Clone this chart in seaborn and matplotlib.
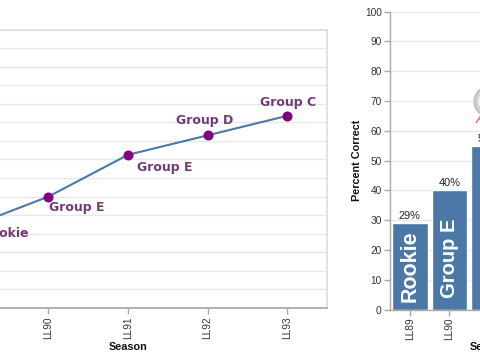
import matplotlib
matplotlib.use('Agg')
import matplotlib.pyplot as plt
import numpy as np
import pandas as pd
import seaborn as sns

# Values
seasons = ['LL89', 'LL90', 'LL91', 'LL92', 'LL93']
percent_correct = [29, 40, 55, 62, 69]
groups = ['Rookie', 'Group E', 'Group E', 'Group D', 'Group C']
bar_labels = ['29%', '40%', '55%', '62%', '69%']
percent_ticks = [0, 10, 20, 30, 40, 50, 60, 70, 80, 90, 100]

df = pd.DataFrame({'Season': seasons, 'Percent': percent_correct, 'Group': groups})

BLUE = '#4c78a8'
GRID = '#e8e8e8'
DOMAIN = '#a8a8a8'
LABEL = '#723a72'

sns.set_theme(style='white')
plt.rcParams['font.family'] = ['Liberation Sans', 'DejaVu Sans']

W, H = 480, 360
fig = plt.figure(figsize=(W / 100, H / 100), dpi=100)


def px_axes(left, right, top, bottom):
    return fig.add_axes([left / W, 1 - bottom / H, (right - left) / W, (bottom - top) / H])


def style_axes(ax, pad):
    ax.set_xlim(-0.5, 4.5)
    ax.set_ylim(0, 100)
    ax.set_axisbelow(True)
    ax.grid(axis='y', color=GRID, linewidth=1)
    ax.set_xlabel('Season', fontsize=7.8, fontweight='bold', color='#111111', labelpad=pad)
    ax.tick_params(axis='x', bottom=True, length=4, width=1, color=DOMAIN, labelsize=7.3,
                   labelcolor='#333333', labelrotation=90, pad=2)


# Left chart, runs off the left edge of the figure
ax1 = px_axes(-71, 327, 29.5, 308)
sns.lineplot(data=df, x='Season', y='Percent', color=BLUE, linewidth=1.5, ax=ax1, zorder=3)
sns.scatterplot(data=df, x='Season', y='Percent', color='#800080', s=52, linewidth=0, ax=ax1, zorder=4)
style_axes(ax1, 2)
ax1.set_yticks(np.linspace(0, 100, 16))
ax1.tick_params(axis='y', left=False, labelleft=False)
ax1.set_ylabel('')
for side in ['top', 'right', 'left']:
    ax1.spines[side].set_color('#dddddd')
ax1.spines['bottom'].set_color(DOMAIN)

# label offsets from each point, in pixels
offsets = [(13, -10), (1, -14), (9, -16), (-32, 11), (-27, 10)]
for i, name in enumerate(groups):
    ax1.annotate(name, (i, percent_correct[i]), xytext=offsets[i], textcoords='offset pixels',
                 ha='left', va='baseline', fontsize=9, fontweight='bold', color=LABEL,
                 family='DejaVu Sans', annotation_clip=False)

# Right chart, runs off the right edge of the figure
ax2 = px_axes(390, 588, 11.5, 309.5)
sns.barplot(data=df, x='Season', y='Percent', color=BLUE, saturation=1, width=0.895, ax=ax2, zorder=2)
style_axes(ax2, 1)
ax2.set_yticks(percent_ticks)
ax2.tick_params(axis='y', left=True, length=4, width=1, color=DOMAIN, labelsize=7.3,
                labelcolor='#333333', pad=2)
ax2.set_ylabel('Percent Correct', fontsize=7.8, fontweight='bold', color='#111111', labelpad=2)
sns.despine(ax=ax2, top=True, right=True)
ax2.spines['left'].set_color(DOMAIN)
ax2.spines['bottom'].set_color(DOMAIN)
ax2.spines['left'].set_linewidth(1)
ax2.spines['bottom'].set_linewidth(1)

bar_text_bottom = [2.5, 3.9, 3.9, 3.9, 3.9]
bar_text_size = [15.5, 14.5, 14.5, 14.5, 14.5]
bar_text_shift = [0, 0, 0.08, 0.08, 0.08]
for i, value in enumerate(percent_correct):
    ax2.text(i, value + 0.7, bar_labels[i], ha='center', va='bottom', fontsize=7.9, color='#222222')
    ax2.text(i + bar_text_shift[i], bar_text_bottom[i], groups[i], rotation=90, ha='center', va='bottom',
             fontsize=bar_text_size[i], fontweight='bold', color='white')

# Badge above the LL91 bar, only its left part is in frame
ax2.scatter([2], [70], s=450, facecolor='#eeeeee', edgecolor='#c4c4c4', linewidth=2, zorder=3, clip_on=False)
ax2.scatter([2], [70], s=300, facecolor='#f4f4f4', edgecolor='#cccccc', linewidth=1, zorder=3, clip_on=False)
ax2.text(1.67, 64, 'A', ha='left', va='center', fontsize=11, style='italic', color='#ee6a58')

fig.savefig('out.png', dpi=100)
